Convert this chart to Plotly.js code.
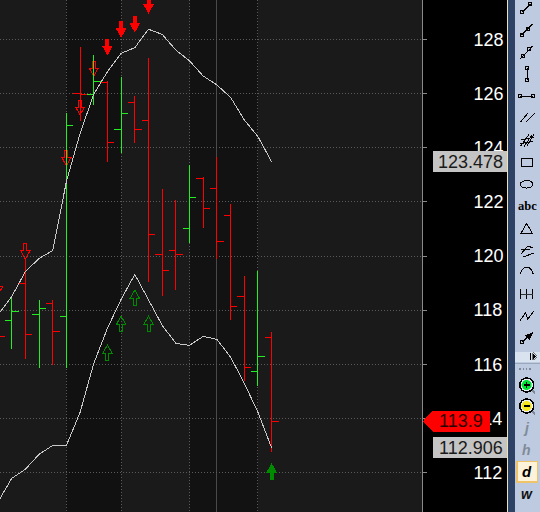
<!DOCTYPE html>
<html><head><meta charset="utf-8">
<script src="https://cdn.plot.ly/plotly-3.0.1.min.js"></script>
<style>html,body{margin:0;padding:0;background:#000;overflow:hidden}#c{width:540px;height:512px}
.trace.ohlc path,.ohlclayer path,.shapelayer path{shape-rendering:crispEdges !important}
.scatterlayer path{shape-rendering:crispEdges !important}
</style>
</head><body><div id="c"></div>
<script>
// ---- data ----
const barIndex = [-1,0,1,2,3,4,5,6,7,8,9,10,11,12,13,14,15,16,17,18,19];
const opens  = [117.5,117.62,118.99,117.85,118.25,117.77,126.01,125.98,126.43,124.68,125.68,125.01,120.06,120.21,121.02,122.87,122.50,121.50,118.51,115.74,117.00];
const highs  = [118.9,118.46,119.89,118.37,118.37,125.28,127.72,127.43,126.46,126.61,125.91,127.32,122.48,122.06,123.36,122.91,123.65,121.92,119.26,119.45,117.18];
const lows   = [116.0,116.57,116.20,115.87,115.97,115.87,125.00,125.59,123.48,123.82,124.19,119.05,118.53,118.75,120.48,121.05,119.90,117.65,115.39,115.21,112.77];
const closes = [117.01,117.96,117.11,118.07,117.22,124.83,125.96,126.46,124.20,125.27,124.68,120.80,119.47,120.06,122.17,121.76,120.55,118.13,115.89,116.29,113.89];
const upperBand = [117.82,118.50,119.42,119.91,120.20,122.75,124.53,125.98,126.81,127.49,127.70,128.38,128.19,127.61,127.21,126.65,126.32,125.86,125.03,124.41,123.48];
const lowerBand = [110.91,111.78,112.12,112.67,113.00,113.00,114.22,116.03,117.33,118.40,119.32,118.40,117.44,116.77,116.70,117.03,116.92,116.26,115.30,114.22,112.906];

const sellHollowX = [-1,1,4,5,6];
const sellHollowY = [118.56,119.89,123.34,125.21,126.65];
const sellSolidX  = [7,8,9,10];
const sellSolidY  = [127.45,128.10,128.29,128.99];
const buyHollowX  = [7,8,9,10];
const buyHollowY  = [116.71,117.78,118.74,117.78];
const buySolidX   = [19];
const buySolidY   = [112.31];

const dayBreaks = [4,8,13,18];
const cursorAt = 15;
const yTicks = [112,114,116,118,120,122,124,126,128];
const yTickText = ['112','114','116','118','120','122','124','126','128'];
const upperLast = 123.478, lowerLast = 112.906, lastPrice = 113.9;

// ---- helpers ----
const PW = 422, PH = 512;
const fx = x => x / PW, fy = y => 1 - y / PH;
const S = [];
function pp(pts, opt) { // toolbar glyph in page pixels
  const d = pts.map((p,i)=>(i?'L':'M')+fx(p[0]).toFixed(5)+','+fy(p[1]).toFixed(5)).join(' ') + (opt&&opt.close?' Z':'');
  S.push({type:'path',xref:'paper',yref:'paper',path:d,layer:'above',
    line:{color:(opt&&opt.color)||'#000',width:(opt&&opt.width!==undefined)?opt.width:1},
    fillcolor:(opt&&opt.fill)||'rgba(0,0,0,0)'});
}
function rectP(x0,y0,x1,y1,fill,lc,lw){
  S.push({type:'rect',xref:'paper',yref:'paper',x0:fx(x0),x1:fx(x1),y0:fy(y0),y1:fy(y1),layer:'above',
    fillcolor:fill,line:{color:lc||fill,width:lw===undefined?0:lw}});
}
function circP(cx,cy,rx,ry,fill,lc,lw){
  S.push({type:'circle',xref:'paper',yref:'paper',x0:fx(cx-rx),x1:fx(cx+rx),y0:fy(cy+ry),y1:fy(cy-ry),layer:'above',
    fillcolor:fill,line:{color:lc||'#000',width:lw===undefined?1:lw}});
}
function sq(x,y){ rectP(x-1.5,y-1.5,x+1.5,y+1.5,'rgba(0,0,0,0)','#000',1); }

// band backgrounds
[[dayBreaks[0],dayBreaks[1],'#111111'],[dayBreaks[2],dayBreaks[3],'#121212']].forEach(b=>{
  S.push({type:'rect',xref:'x',yref:'paper',x0:b[0],x1:b[1],y0:0,y1:1,layer:'below',line:{width:0},fillcolor:b[2]});
});
// cursor
S.push({type:'line',xref:'x',yref:'paper',x0:cursorAt,x1:cursorAt,y0:0,y1:1,layer:'between',line:{color:'#4a4a4a',width:1}});

// signal arrows, anchored on data, shape in pixels
const DOWN='M-1.5,15 L1.5,15 L1.5,8 L4.5,8 L0,0 L-4.5,8 L-1.5,8 Z';
const UP  ='M-1.5,-15 L1.5,-15 L1.5,-8 L4.5,-8 L0,0 L-4.5,-8 L-1.5,-8 Z';
function arrows(xs,ys,path,col,solid){
  xs.forEach((x,i)=>S.push({type:'path',xref:'x',yref:'y',xsizemode:'pixel',ysizemode:'pixel',
    xanchor:x,yanchor:ys[i],path:path,layer:'between',
    line:{color:col,width:1},fillcolor:solid?col:'rgba(0,0,0,0)'}));
}
arrows(sellHollowX,sellHollowY,DOWN,'#ff0000',false);
arrows(sellSolidX,sellSolidY,DOWN,'#ff0000',true);
arrows(buyHollowX,buyHollowY,UP,'#008a00',false);
arrows(buySolidX,buySolidY,UP,'#008a00',true);

// price tags on the axis
function tag(val,path,fill){
  S.push({type:'path',xref:'paper',yref:'y',xsizemode:'pixel',ysizemode:'pixel',xanchor:1,yanchor:val,
    path:path,layer:'above',line:{width:0},fillcolor:fill});
}
tag(upperLast,'M11,-10.5 L85,-10.5 L85,10.5 L11,10.5 Z','#c4c4c4');
tag(lowerLast,'M11,-10.5 L85,-10.5 L85,10.5 L11,10.5 Z','#c4c4c4');
tag(lastPrice,'M1,0 L11,-10.5 L68,-10.5 L68,10.5 L11,10.5 Z','#ff0000');

// toolbar
rectP(506.5,0,507.6,512,'#efe3b4');
rectP(507.6,0,514.5,512,'#2d4265');
rectP(514.5,0,540,512,'#bdcadf');
rectP(515,351.5,540,361.5,'#d9e3ef');
rectP(515,363,540,364,'#9aa8bc');
pp([[522.3,12.3],[530.3,4.3]]); sq(522.3,12.3); sq(530.3,4.3);
pp([[521.7,35],[532.7,24]]); sq(521.7,35); sq(527.7,29.3);
pp([[520,59],[532.7,46]]); sq(523.3,55.7); sq(529.3,49.3);
pp([[527.3,68.3],[527.3,80.3]]); sq(527.3,68.3); sq(527.3,80.3);
pp([[520.3,96.3],[533.3,96.3]]); sq(520.3,96.3); sq(533.3,96.3);
pp([[520.3,122.3],[527.7,113.3]]); pp([[525.7,122.3],[535,113.3]]);
pp([[520.7,146],[529,134.5]]); pp([[524,146.5],[532,135]]); pp([[527,146],[534,134]]);
pp([[521,140],[534,137]]); pp([[520,144],[533,141]]);
rectP(521,158.3,532.7,166.7,'rgba(0,0,0,0)','#000',1);
circP(526.7,184.3,6.3,3.8,'rgba(0,0,0,0)');
pp([[526.7,223.3],[521,233.3],[532.3,233.3]],{close:true});
pp([[521,254],[528,246],[533,248]]); pp([[521,250],[530,250]]); pp([[523,257],[534,253]]);
pp([[520.3,274.3],[521.8,270],[524.5,267.6],[526.7,267.2],[529,267.6],[531.8,270],[533.3,274.3]]);
pp([[520.7,289],[520.7,299.3]]); pp([[526.7,289],[526.7,299.3]]); pp([[533,289],[533,299.3]]);
pp([[521,294],[533,294]],{color:'#333',width:1});
pp([[520,320.7],[525.7,312.7],[527.7,319.3],[534,310.7]]);
pp([[522.3,342.3],[528,336.5]]); sq(522.3,342.3);
pp([[532.5,333],[526,335.5],[529.5,339]],{close:true,fill:'#000'});
rectP(530,353.2,531,359.5,'#000');
pp([[532.5,353],[536.5,356.5],[532.5,360]],{close:true,fill:'#000',width:0.5});
[520,523.3,526.7,530].forEach(x=>rectP(x-0.7,368.3,x+0.7,369.7,'#7d8899'));
function zoomIcon(cy,fill,bar){
  pp([[531.5,cy+5],[535,cy+8]],{color:'#7d8899',width:2});
  circP(526.7,cy,7,7,'#e8eef6','#000',1.5);
  circP(526.7,cy,4.8,4.8,fill,fill,0.5);
  pp([[523.8,cy],[529.6,cy]],{width:1.5});
  if(bar) pp([[526.7,cy-3],[526.7,cy+3]],{width:1.5});
}
zoomIcon(385,'#00e436',true);
zoomIcon(406,'#f6e71c',false);
rectP(517,461.5,537.7,482,'#fdf2da','#efc36a',1.5);

// ---- annotations ----
const A = [];
function valLabel(txt,val,col){
  A.push({xref:'paper',yref:'y',x:503.5/PW,y:val,text:txt,showarrow:false,xanchor:'right',yanchor:'middle',
    font:{family:'Liberation Sans',size:18,color:col},borderpad:0,bgcolor:'rgba(0,0,0,0)'});
}
valLabel('123.478',upperLast,'#1a1a1a');
valLabel('112.906',lowerLast,'#1a1a1a');
A.push({xref:'paper',yref:'y',x:484.5/PW,y:lastPrice,text:'113.9',showarrow:false,xanchor:'right',yanchor:'middle',
  font:{family:'Liberation Sans',size:18,color:'#2a0000'},borderpad:0});
function toolTxt(t,x,y,font,size,col){
  A.push({xref:'paper',yref:'paper',x:fx(x),y:fy(y),text:t,showarrow:false,xanchor:'center',yanchor:'middle',
    font:{family:font,size:size,color:col},borderpad:0});
}
toolTxt('<b>abc</b>',527,205.5,'Liberation Serif',12.5,'#000');
toolTxt('<b><i>j</i></b>',526.7,428,'Liberation Sans',14,'#808a98');
toolTxt('<b><i>h</i></b>',526.7,450,'Liberation Sans',14,'#808a98');
toolTxt('<b><i>d</i></b>',527,471.5,'Liberation Sans',15,'#000');
toolTxt('<b><i>w</i></b>',527,494,'Liberation Sans',14,'#111');

// ---- chart ----
const idx = barIndex;
const traces = [
 {type:'ohlc',x:idx,open:opens,high:highs,low:lows,close:closes,tickwidth:0.5,
  increasing:{line:{color:'#22ee22',width:1}},decreasing:{line:{color:'#ff0000',width:1}},hoverinfo:'skip',showlegend:false},
 {type:'scatter',mode:'lines',x:idx,y:upperBand,line:{color:'#c8c8c8',width:1},hoverinfo:'skip',showlegend:false},
 {type:'scatter',mode:'lines',x:idx,y:lowerBand,line:{color:'#c8c8c8',width:1},hoverinfo:'skip',showlegend:false}
];
const layout = {
 width:540,height:512,autosize:false,
 margin:{l:0,r:118,t:0,b:0,pad:0},
 paper_bgcolor:'#000',plot_bgcolor:'#1a1a1a',
 showlegend:false,hovermode:false,dragmode:false,
 xaxis:{type:'linear',range:[-0.852,29.987],rangeslider:{visible:false},showticklabels:false,ticks:'',
   tickmode:'array',tickvals:dayBreaks,showgrid:true,gridcolor:'#5a5a5a',gridwidth:1,griddash:'1px,2px',zeroline:false,showline:false,fixedrange:true},
 yaxis:{side:'right',range:[110.54,129.46],tickmode:'array',tickvals:yTicks,ticktext:yTickText,
   showgrid:true,gridcolor:'#5a5a5a',gridwidth:1,griddash:'1px,2px',zeroline:false,
   showline:true,linecolor:'#8a8a8a',linewidth:1,ticks:'outside',ticklen:4,tickcolor:'#8a8a8a',tickwidth:1,
   ticklabelstandoff:43,tickfont:{family:'Liberation Sans',size:18,color:'#ffffff'},fixedrange:true},
 shapes:S,annotations:A
};
Plotly.newPlot('c',traces,layout,{displayModeBar:false,staticPlot:true});
</script></body></html>
